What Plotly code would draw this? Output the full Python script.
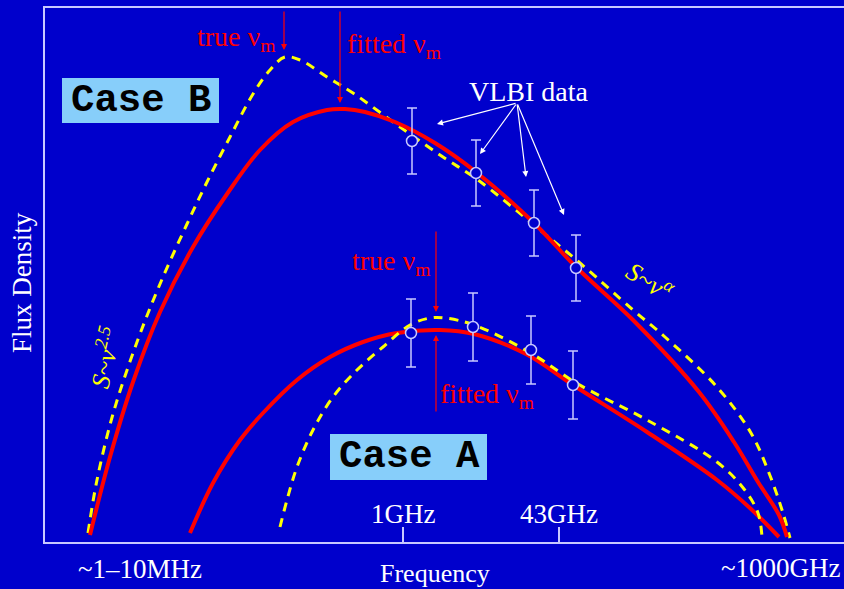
import plotly.graph_objects as go

# ---- data (x: position along frequency axis, y: flux density, arbitrary units) ----
caseB_fit_x = [90, 110, 133, 160, 193, 227, 260, 293, 327, 345, 365, 395, 435, 476, 533, 576, 633, 699, 734, 758, 779, 787]
caseB_fit_y = [7, 85, 160, 230, 295, 348, 392, 420, 432, 433, 430, 420, 399, 370, 320, 275, 222, 150, 100, 60, 27, 5]

caseB_true_x = [88, 97, 113, 137, 160, 187, 207, 230, 253, 270, 285, 300, 327, 353, 400, 443, 478, 540, 580, 633, 665, 717, 751, 769, 783, 790]
caseB_true_y = [9, 62, 128, 200, 258, 318, 360, 405, 448, 472, 485, 482, 465, 449, 415, 385, 362, 312, 279, 232, 205, 155, 109, 69, 29, 4]

caseA_fit_x = [190, 213, 240, 263, 297, 330, 363, 397, 440, 474, 526, 573, 647, 717, 751, 779]
caseA_fit_y = [9, 59, 102, 129, 162, 185, 200, 209, 212, 208, 188, 157, 110, 62, 33, 5]

caseA_true_x = [280, 287, 297, 313, 333, 357, 383, 410, 430, 445, 474, 529, 578, 647, 717, 744, 758, 762]
caseA_true_y = [15, 42, 75, 112, 145, 172, 195, 217, 224, 224, 217, 190, 158, 122, 80, 53, 29, 5]

vlbiB_x = [412, 476, 534, 576]
vlbiB_y = [401, 369, 319, 274]
vlbiB_err = [33, 33, 33, 33]

vlbiA_x = [411, 473, 531, 573]
vlbiA_y = [209, 215, 192, 157]
vlbiA_err = [34, 34, 34, 34]

tick_x = [403, 559]
tick_labels = ["1GHz", "43GHz"]

BG = "#0000CC"
RED = "#FF0000"
YEL = "#FFFF00"
LAV = "#C8C8FF"
SERIF = "Liberation Serif"
MONO = "Liberation Mono"

fig = go.Figure()

fig.add_trace(go.Scatter(x=caseB_true_x, y=caseB_true_y, mode="lines",
                         line=dict(color=YEL, width=3, dash="9px,7px", shape="spline", smoothing=1.0)))
fig.add_trace(go.Scatter(x=caseB_fit_x, y=caseB_fit_y, mode="lines",
                         line=dict(color=RED, width=4, shape="spline", smoothing=1.0)))
fig.add_trace(go.Scatter(x=caseA_fit_x, y=caseA_fit_y, mode="lines",
                         line=dict(color=RED, width=4, shape="spline", smoothing=1.0)))
fig.add_trace(go.Scatter(x=caseA_true_x, y=caseA_true_y, mode="lines",
                         line=dict(color=YEL, width=3, dash="9px,7px", shape="spline", smoothing=1.0)))

for xs, ys, es in [(vlbiB_x, vlbiB_y, vlbiB_err), (vlbiA_x, vlbiA_y, vlbiA_err)]:
    fig.add_trace(go.Scatter(x=xs, y=ys, mode="markers",
                             marker=dict(symbol="circle", size=11, color=BG,
                                         line=dict(color=LAV, width=1.5)),
                             error_y=dict(type="data", array=es, color=LAV, thickness=1.5, width=5)))

# boxes for Case labels
fig.add_shape(type="rect", x0=62, x1=219, y0=419, y1=464, fillcolor="#87CEFA", line=dict(width=0), layer="above")
fig.add_shape(type="rect", x0=330, x1=487, y0=62, y1=108, fillcolor="#87CEFA", line=dict(width=0), layer="above")

ann = []
def txt(x, y, s, color, size, family=SERIF, angle=0, ref="data"):
    xr, yr = ("x", "y") if ref == "data" else ("paper", "paper")
    ann.append(dict(x=x, y=y, xref=xr, yref=yr, text=s, showarrow=False,
                    font=dict(color=color, size=size, family=family), textangle=angle,
                    xanchor="center", yanchor="middle"))

def arrow(x0, y0, x1, y1, color, width=1.2, head=2, size=1.0):
    ann.append(dict(x=x1, y=y1, ax=x0, ay=y0, xref="x", yref="y", axref="x", ayref="y",
                    text="", showarrow=True, arrowhead=head, arrowsize=size,
                    arrowwidth=width, arrowcolor=color))

txt(141, 441, "<b>Case B</b>", "black", 39, family=MONO)
txt(409, 85, "<b>Case A</b>", "black", 39, family=MONO)

txt(236, 504, "true ν<sub>m</sub>", RED, 28)
arrow(284, 532, 284, 492, RED)
txt(394, 497, "fitted ν<sub>m</sub>", RED, 28)
arrow(340, 532, 340, 439, RED)

txt(391, 280, "true ν<sub>m</sub>", RED, 28)
arrow(436, 312, 436, 230, RED)
txt(487, 147, "fitted ν<sub>m</sub>", RED, 28)
arrow(436, 129, 436, 207, RED)

txt(529, 451, "VLBI data", "white", 28)
for tx, ty in [(437, 418), (480, 388), (526, 365), (564, 327)]:
    arrow(517, 439, tx, ty, "white", width=1.2, head=2, size=1.0)

txt(650, 262, "<i>S~ν<sup>α</sup></i>", YEL, 26, angle=33)
txt(104, 184, "<i>S~ν<sup>2.5</sup></i>", YEL, 26, angle=-77)

for tx, tl in zip(tick_x, tick_labels):
    txt(tx, 28, tl, "white", 27)

# texts outside the plotting area (paper coordinates)
txt(0.1189, -0.0506, "~1–10MHz", "white", 27, ref="paper")
txt(0.921, -0.0487, "~1000GHz", "white", 27, ref="paper")
txt(0.488, -0.0585, "Frequency", "white", 26, ref="paper")
txt(-0.0288, 0.487, "Flux Density", "white", 27, angle=-90, ref="paper")

fig.update_layout(
    width=844, height=589,
    margin=dict(l=45, r=0, t=8, b=47),
    paper_bgcolor=BG, plot_bgcolor=BG,
    showlegend=False,
    annotations=ann,
    xaxis=dict(range=[45, 844], showgrid=False, zeroline=False, showline=True, mirror=True,
               linecolor=LAV, linewidth=1.5, tickvals=tick_x, ticks="inside", ticklen=15,
               tickcolor=LAV, tickwidth=1.5, showticklabels=False, fixedrange=True),
    yaxis=dict(range=[0, 534], showgrid=False, zeroline=False, showline=True, mirror=False,
               linecolor=LAV, linewidth=1.5, showticklabels=False, ticks="", fixedrange=True),
)

fig.write_html("out.html")
